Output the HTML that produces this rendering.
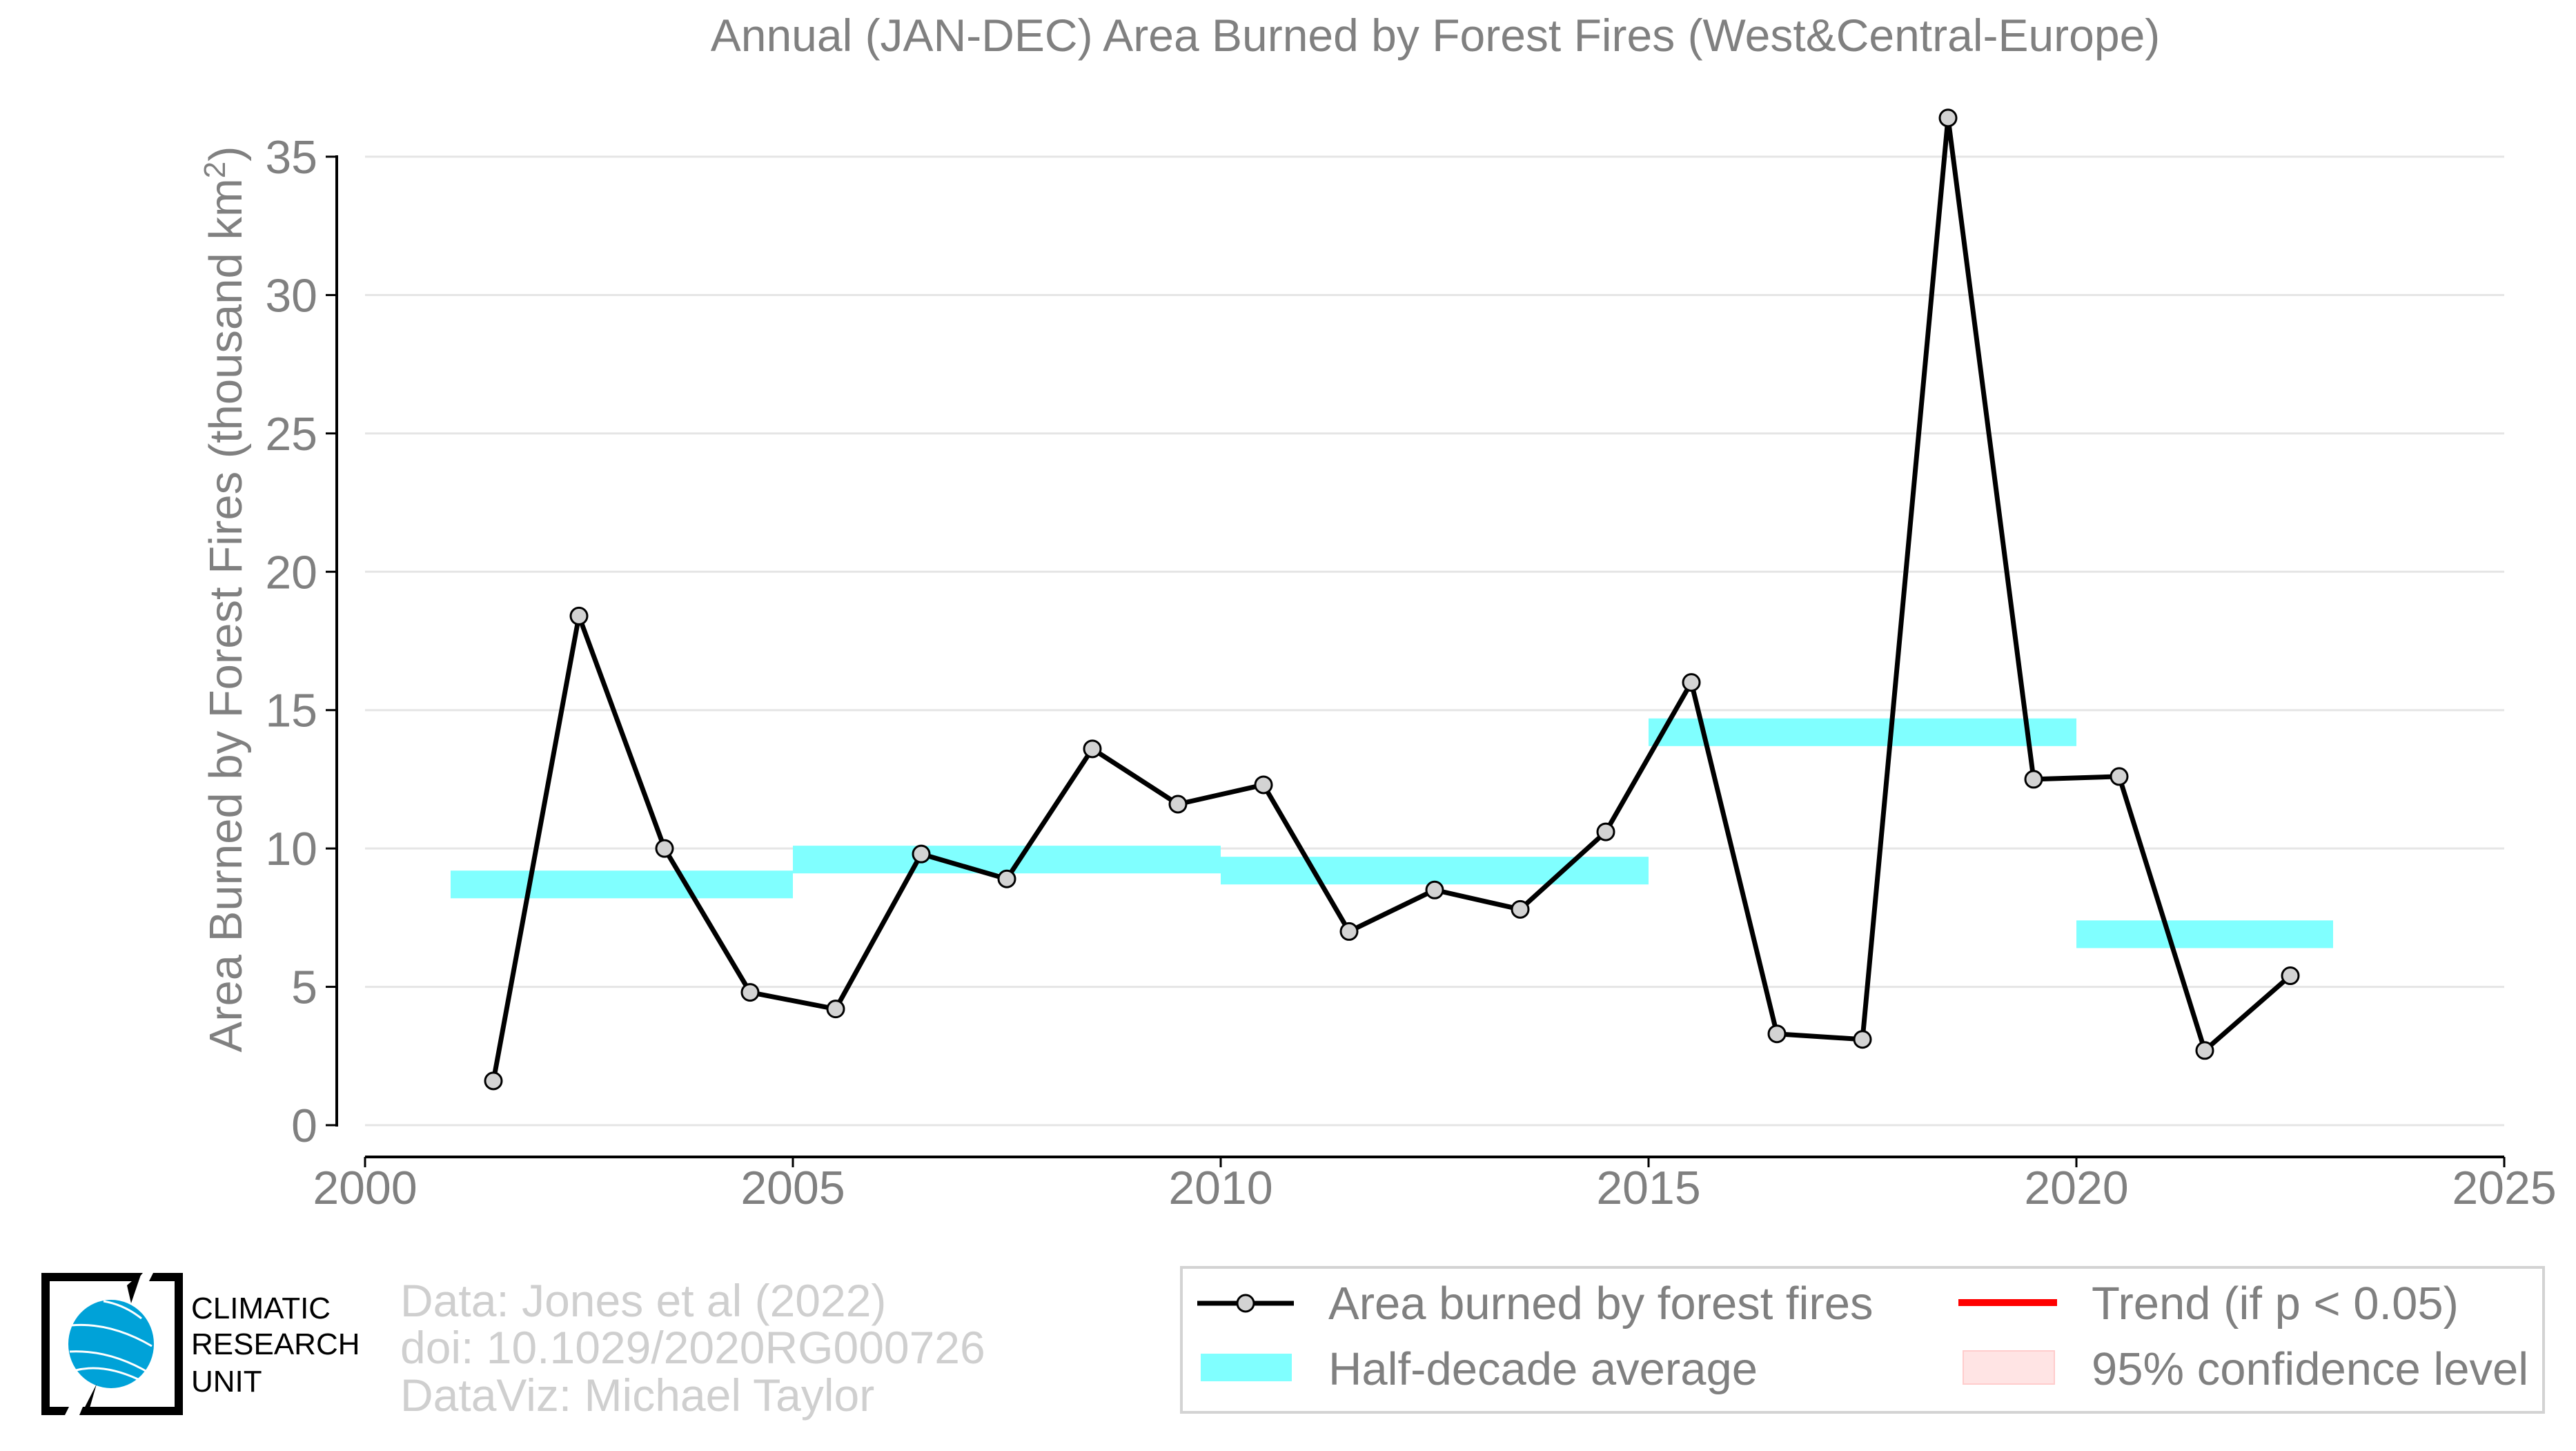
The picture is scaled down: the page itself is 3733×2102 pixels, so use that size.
<!DOCTYPE html>
<html><head><meta charset="utf-8"><style>
html,body{margin:0;padding:0;background:#fff;}
svg{display:block;font-family:"Liberation Sans",Arial,sans-serif;}
</style></head><body>
<svg id="chart" width="3733" height="2102" viewBox="0 0 3733 2102" xmlns="http://www.w3.org/2000/svg">
<rect width="3733" height="2102" fill="#fff"/>
<text x="2080" y="74" text-anchor="middle" font-size="66" fill="#808080">Annual (JAN-DEC) Area Burned by Forest Fires (West&amp;Central-Europe)</text>
<g id="grid"></g>
<g id="bands"></g>
<g id="series"></g>
<g id="axes"></g>
<text transform="translate(350,868) rotate(-90)" text-anchor="middle" font-size="67" fill="#808080">Area Burned by Forest Fires (thousand km<tspan dy="-24" font-size="44">2</tspan><tspan dy="24">)</tspan></text>

<g>
<path d="M60,1844 H207 L197,1856 H72 V2038 H100 L94,2050 H60 Z" fill="#000"/>
<path d="M222,1844 H265 V2050 H115 L120,2038 H253 V1856 H216 Z" fill="#000"/>
<path d="M184,1862 L205,1844 L190,1888 Z" fill="#000"/>
<ellipse cx="161" cy="1947" rx="62" ry="64" fill="#00a2d8"/>
<path d="M103,1920 Q160,1915 220,1950 M101,1958 Q160,1955 218,1990 M110,1985 Q150,1975 200,1998 M150,1885 Q180,1890 205,1910" stroke="#fff" stroke-width="3" fill="none"/>
<path d="M140,2005 L127,2050 L117,2050 Z" fill="#000"/>
<text x="277" y="1910" font-size="44" fill="#000">CLIMATIC</text>
<text x="277" y="1962" font-size="44" fill="#000">RESEARCH</text>
<text x="277" y="2016" font-size="44" fill="#000">UNIT</text>
</g>
<g fill="#cfcfcf" font-size="66">
<text x="580" y="1907">Data: Jones et al (2022)</text>
<text x="580" y="1975">doi: 10.1029/2020RG000726</text>
<text x="580" y="2044">DataViz: Michael Taylor</text>
</g>

<g>
<rect x="1712" y="1836" width="1974" height="210" fill="#fff" stroke="#d3d3d3" stroke-width="4"/>
<g>
<line x1="1735" y1="1888" x2="1875" y2="1888" stroke="#000" stroke-width="7"/>
<circle cx="1805" cy="1888" r="12" fill="#d3d3d3" stroke="#000" stroke-width="3"/>
<text x="1925" y="1911" font-size="67" fill="#808080">Area burned by forest fires</text>
</g>
<g>
<rect x="2838" y="1882" width="143" height="10" fill="#ff0000"/>
<text x="3031" y="1911" font-size="67" fill="#808080">Trend (if p &lt; 0.05)</text>
</g>
<g>
<rect x="1740" y="1961" width="132" height="40" fill="#80ffff"/>
<text x="1925" y="2006" font-size="67" fill="#808080">Half-decade average</text>
</g>
<g>
<rect x="2845" y="1957" width="132" height="48" fill="#ffe4e4" stroke="#ffcccc" stroke-width="2"/>
<text x="3031" y="2006" font-size="67" fill="#808080">95% confidence level</text>
</g>
</g>
</svg>
<script>
const years = [2001,2002,2003,2004,2005,2006,2007,2008,2009,2010,2011,2012,2013,2014,2015,2016,2017,2018,2019,2020,2021,2022];
const values = [1.6,18.4,10.0,4.8,4.2,9.8,8.9,13.6,11.6,12.3,7.0,8.5,7.8,10.6,16.0,3.3,3.1,36.4,12.5,12.6,2.7,5.4];
const bandStarts = [2001,2005,2010,2015,2020];
const bandEnds = [2005,2010,2015,2020,2023];
const bandValues = [8.7,9.6,9.2,14.2,6.9];
const yTicks = [0,5,10,15,20,25,30,35];
const xTicks = [2000,2005,2010,2015,2020,2025];

const NS = "http://www.w3.org/2000/svg";
const X0 = 529, X1 = 3629, Y0 = 1630, Y35 = 227;
function xs(v){ return X0 + (v - 2000) / 25 * (X1 - X0); }
function ys(v){ return Y0 - v / 35 * (Y0 - Y35); }
function mk(tag, attrs, parent){
  const e = document.createElementNS(NS, tag);
  for (const k in attrs) e.setAttribute(k, attrs[k]);
  parent.appendChild(e);
  return e;
}
const grid = document.getElementById('grid');
const axes = document.getElementById('axes');
const bands = document.getElementById('bands');
const series = document.getElementById('series');

yTicks.forEach(t => {
  const g = mk('line', {x1: X0, x2: X1, y1: ys(t), y2: ys(t), stroke: '#e5e5e5', 'stroke-width': 3}, grid);
  
  
  const tk = mk('line', {x1: 472, x2: 488, y1: ys(t), y2: ys(t), stroke: '#000', 'stroke-width': 3}, axes);
  
  
  const lb = mk('text', {x: 460, y: ys(t) + 24, 'text-anchor': 'end', 'font-size': 68, fill: '#808080'}, axes);
  lb.textContent = t;
  
  
});
const ya = mk('line', {x1: 488, x2: 488, y1: Y35 - 2, y2: Y0 + 2, stroke: '#000', 'stroke-width': 4}, axes);


const xa = mk('line', {x1: X0, x2: X1, y1: 1676, y2: 1676, stroke: '#000', 'stroke-width': 4}, axes);


xTicks.forEach(t => {
  const tk = mk('line', {x1: xs(t), x2: xs(t), y1: 1676, y2: 1691, stroke: '#000', 'stroke-width': 3}, axes);
  
  
  const lb = mk('text', {x: xs(t), y: 1744, 'text-anchor': 'middle', 'font-size': 68, fill: '#808080'}, axes);
  lb.textContent = t;
  
  
});
bandValues.forEach((v, i) => {
  const r = mk('rect', {x: xs(bandStarts[i]), width: xs(bandEnds[i]) - xs(bandStarts[i]), y: ys(v + 0.5), height: ys(v - 0.5) - ys(v + 0.5), fill: '#80ffff'}, bands);
  
  
});
const pts = years.map((y, i) => xs(y + 0.5) + ',' + ys(values[i])).join(' ');
const pl = mk('polyline', {points: pts, fill: 'none', stroke: '#000', 'stroke-width': 7, 'stroke-linejoin': 'round'}, series);


years.forEach((y, i) => {
  const c = mk('circle', {cx: xs(y + 0.5), cy: ys(values[i]), r: 12, fill: '#d3d3d3', stroke: '#000', 'stroke-width': 3}, series);
  
  
});
</script>
</body></html>
